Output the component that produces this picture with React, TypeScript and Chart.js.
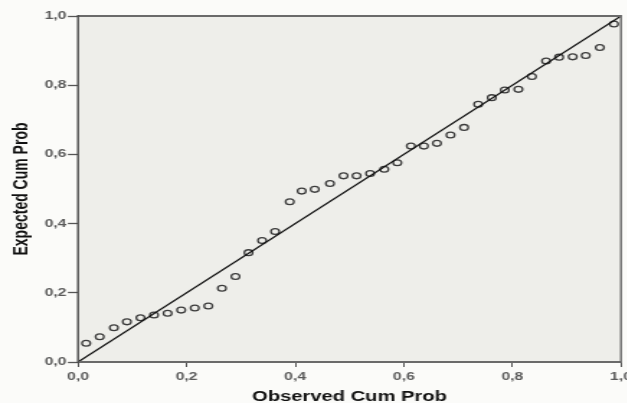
import React, { useEffect, useRef } from "react";
import { Chart, registerables } from "chart.js";

Chart.register(...registerables);

const OBSERVED = [
  0.015, 0.04, 0.066, 0.09, 0.115, 0.14, 0.165, 0.19, 0.215, 0.24,
  0.265, 0.29, 0.314, 0.339, 0.363, 0.39, 0.412, 0.436, 0.464, 0.489,
  0.513, 0.538, 0.564, 0.588, 0.613, 0.637, 0.661, 0.686, 0.711, 0.737,
  0.762, 0.786, 0.811, 0.836, 0.862, 0.886, 0.911, 0.935, 0.961, 0.987,
];
const EXPECTED = [
  0.054, 0.073, 0.099, 0.116, 0.128, 0.136, 0.141, 0.15, 0.156, 0.162,
  0.213, 0.247, 0.316, 0.351, 0.377, 0.463, 0.494, 0.499, 0.516, 0.538,
  0.538, 0.545, 0.557, 0.576, 0.624, 0.624, 0.632, 0.656, 0.678, 0.745,
  0.764, 0.786, 0.788, 0.825, 0.87, 0.881, 0.882, 0.886, 0.909, 0.977,
];
const DIAGONAL_X = [0, 1];
const DIAGONAL_Y = [0, 1];
const TICK_LABELS = ["0,0", "0,2", "0,4", "0,6", "0,8", "1,0"];
const X_TITLE = "Observed Cum Prob";
const Y_TITLE = "Expected Cum Prob";

const STRETCH = 1.44;
const CANVAS_W = 450;
const CANVAS_H = 403;
const FONT = "'Liberation Sans', Arial, sans-serif";

const framePlugin = {
  id: "frame",
  beforeDraw(chart: any) {
    const { ctx, chartArea: a } = chart;
    ctx.save();
    ctx.fillStyle = "#eeeeea";
    ctx.fillRect(a.left, a.top, a.right - a.left, a.bottom - a.top);
    ctx.restore();
  },
  afterDraw(chart: any) {
    const { ctx, chartArea: a } = chart;
    ctx.save();
    ctx.strokeStyle = "#6a6a6a";
    ctx.lineWidth = 2;
    ctx.beginPath();
    ctx.moveTo(a.left, a.top);
    ctx.lineTo(a.right, a.top);
    ctx.moveTo(a.left, a.bottom);
    ctx.lineTo(a.right, a.bottom);
    ctx.stroke();
    ctx.lineWidth = 1.4;
    ctx.beginPath();
    ctx.moveTo(a.right, a.top - 1);
    ctx.lineTo(a.right, a.bottom + 1);
    ctx.stroke();
    ctx.strokeStyle = "#4a4a4a";
    ctx.beginPath();
    ctx.moveTo(a.left, a.top - 1);
    ctx.lineTo(a.left, a.bottom + 1);
    ctx.stroke();
    ctx.restore();
  },
};

export default function App() {
  const ref = useRef<HTMLCanvasElement | null>(null);

  useEffect(() => {
    if (!ref.current) return;
    const points = OBSERVED.map((x, i) => ({ x, y: EXPECTED[i] }));
    const diag = DIAGONAL_X.map((x, i) => ({ x, y: DIAGONAL_Y[i] }));
    const chart = new Chart(ref.current, {
      type: "scatter",
      data: {
        datasets: [
          {
            data: diag,
            showLine: true,
            borderColor: "#111",
            borderWidth: 1.2,
            pointRadius: 0,
            pointHoverRadius: 0,
          },
          {
            data: points,
            pointStyle: "circle",
            pointRadius: 2.9,
            pointBorderWidth: 1.3,
            borderColor: "#3c3c3c",
            backgroundColor: "rgba(0,0,0,0)",
            pointBackgroundColor: "rgba(0,0,0,0)",
            pointBorderColor: "#3c3c3c",
          },
        ],
      },
      options: {
        animation: false,
        responsive: false,
        devicePixelRatio: 1,
        layout: { padding: { left: 0, right: CANVAS_W - 621 / STRETCH, top: 16, bottom: 0 } },
        plugins: {
          legend: { display: false },
          tooltip: { enabled: false },
        },
        scales: {
          x: {
            type: "linear",
            min: 0,
            max: 1,
            border: { display: false },
            grid: {
              display: true,
              drawOnChartArea: false,
              drawTicks: true,
              tickLength: 5,
              tickColor: "#555",
              tickWidth: 1,
            },
            ticks: {
              stepSize: 0.2,
              padding: 3,
              maxRotation: 0,
              color: "#5a5a5a",
              font: { family: FONT, size: 11, weight: "bold" },
              callback: (_v: any, i: number) => TICK_LABELS[i],
            },
            title: {
              display: true,
              text: X_TITLE,
              color: "#111",
              font: { family: FONT, size: 14, weight: "bold", lineHeight: 1 },
              padding: { top: 0, bottom: -1 },
            },
            afterFit: (s: any) => {
              s.height = 41;
            },
          },
          y: {
            type: "linear",
            min: 0,
            max: 1,
            border: { display: false },
            grid: {
              display: true,
              drawOnChartArea: false,
              drawTicks: true,
              tickLength: 7,
              tickColor: "#555",
              tickWidth: 1.3,
            },
            ticks: {
              stepSize: 0.2,
              padding: 1,
              color: "#5a5a5a",
              font: { family: FONT, size: 11, weight: "bold" },
              callback: (_v: any, i: number) => TICK_LABELS[i],
            },
            title: {
              display: true,
              text: Y_TITLE,
              color: "#111",
              font: { family: FONT, size: 14, weight: "bold", lineHeight: 1.2 },
              padding: { top: 7, bottom: 0 },
            },
            afterFit: (s: any) => {
              s.width = 78 / STRETCH;
            },
          },
        },
      } as any,
      plugins: [framePlugin],
    });
    return () => chart.destroy();
  }, []);

  return (
    <div
      style={{
        position: "fixed",
        left: 0,
        top: 0,
        width: 627,
        height: 403,
        overflow: "hidden",
        background: "#fbfbf9",
      }}
    >
      <div
        style={{
          width: CANVAS_W,
          height: CANVAS_H,
          transform: `scaleX(${STRETCH})`,
          transformOrigin: "0 0",
        }}
      >
        <canvas ref={ref} width={CANVAS_W} height={CANVAS_H} style={{ display: "block" }} />
      </div>
    </div>
  );
}
